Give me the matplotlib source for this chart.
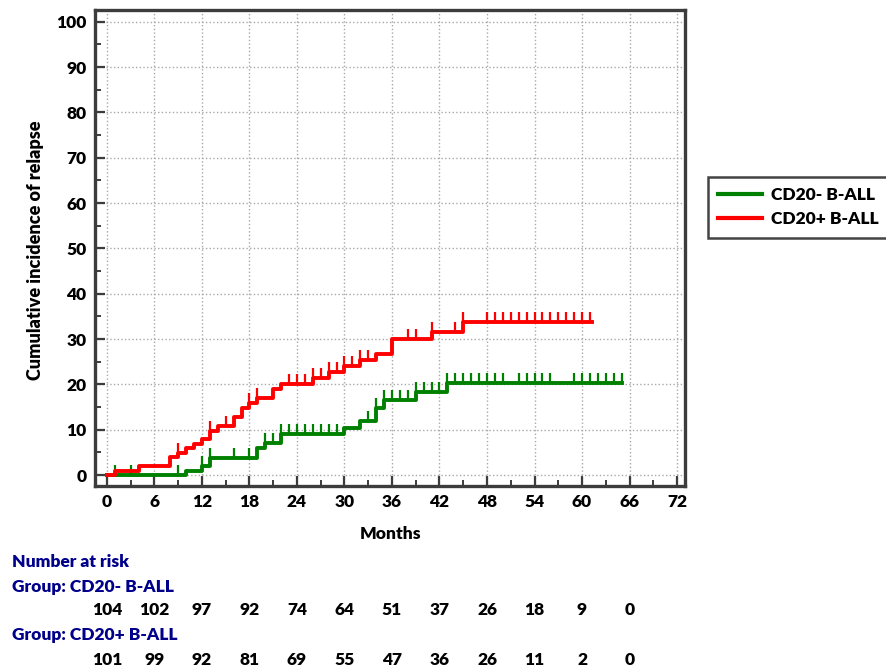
import numpy as np
import matplotlib.pyplot as plt
from matplotlib import transforms
from matplotlib.ticker import MultipleLocator

plt.rcParams['font.family'] = ['Lato', 'DejaVu Sans']
plt.rcParams['font.weight'] = 'heavy'

# CD20- B-ALL: event times (months) and cumulative incidence (%) after each step
neg_t = [0, 10, 12, 13, 19, 20, 22, 30, 32, 34, 35, 39, 43]
neg_y = [0, 1.0, 2.0, 3.8, 5.9, 7.1, 9.1, 10.3, 12.0, 14.8, 16.5, 18.4, 20.3]
neg_end = 65.1
neg_cens = [1, 3, 9, 12, 13, 16, 18, 20, 21, 22, 23, 24, 25, 26, 27, 28, 29,
            33, 34, 35, 36, 37, 38, 39, 40, 41, 42, 43, 44, 45, 46, 47, 48, 49,
            50, 52, 53, 54, 55, 56, 59, 60, 61, 62, 63, 64, 65]

# CD20+ B-ALL
pos_t = [0, 1, 4, 8, 9, 10, 11, 12, 13, 14, 16, 17, 18, 19, 21, 22, 26, 28,
         30, 32, 34, 36, 41, 45]
pos_y = [0, 1.0, 2.1, 3.9, 4.9, 5.9, 6.9, 8.0, 9.7, 10.8, 12.8, 14.8, 15.9,
         17.0, 19.0, 20.1, 21.4, 22.7, 24.1, 25.3, 26.8, 30.0, 31.6, 33.7]
pos_end = 61.2
pos_cens = [9, 13, 15, 18, 19, 23, 24, 25, 26, 27, 28, 29, 30, 31, 32, 33, 38,
            39, 41, 44, 45, 48, 49, 50, 51, 52, 53, 54, 55, 56, 57, 58, 59, 60, 61]

# number at risk table
risk_months = [0, 6, 12, 18, 24, 30, 36, 42, 48, 54, 60, 66]
neg_risk = [104, 102, 97, 92, 74, 64, 51, 37, 26, 18, 9, 0]
pos_risk = [101, 99, 92, 81, 69, 55, 47, 36, 26, 11, 2, 0]

GREEN = '#008000'
RED = '#ff0000'
DARK = '#3c3c3c'
NAVY = '#00008b'
FS = 12.5

W, H = 887, 671
fig = plt.figure(figsize=(W / 100, H / 100), dpi=100)
ax = fig.add_axes([95 / W, 1 - 486 / H, (685 - 95) / W, (486 - 10) / H])


def censor_levels(t, y, cens):
    idx = np.searchsorted(t, cens, side='right') - 1
    return np.array(y)[idx]


handles = []
for t, y, end, cens, col, lab in [
        (neg_t, neg_y, neg_end, neg_cens, GREEN, 'CD20- B-ALL'),
        (pos_t, pos_y, pos_end, pos_cens, RED, 'CD20+ B-ALL')]:
    h, = ax.step(t + [end], y + [y[-1]], where='post', color=col, lw=2.8,
                 label=lab, zorder=3)
    lev = censor_levels(t, y, cens)
    ax.vlines(cens, lev, lev + 2.2, color=col, lw=1.6, zorder=3)
    handles.append(h)

ax.set_xlim(-1.5, 73.0)
ax.set_ylim(-2.4, 102.6)
ax.xaxis.set_major_locator(MultipleLocator(6))
ax.xaxis.set_minor_locator(MultipleLocator(3))
ax.yaxis.set_major_locator(MultipleLocator(10))
ax.yaxis.set_minor_locator(MultipleLocator(5))
ax.grid(True, which='major', linestyle=':', color='#a8a8a8', lw=1.0, zorder=0)
ax.tick_params(which='major', direction='in', length=7.5, width=1.6,
               color=DARK, labelsize=FS, pad=6)
ax.tick_params(which='minor', direction='in', length=4, width=1.4, color=DARK)
for s in ax.spines.values():
    s.set_linewidth(2.4)
    s.set_color(DARK)

fig.text(36 / W, 1 - 250 / H, 'Cumulative incidence of relapse', rotation=90,
         ha='center', va='center', fontsize=13)
fig.text(391 / W, 1 - 534 / H, 'Months', ha='center', va='center', fontsize=FS)

leg = ax.legend(handles=handles, loc='upper left',
                bbox_to_anchor=(708 / W, 1 - 177 / H),
                bbox_transform=fig.transFigure, borderaxespad=0,
                fancybox=False, framealpha=1, edgecolor='#444444',
                handlelength=2.5, handletextpad=0.55, fontsize=12.5,
                labelspacing=0.45, borderpad=0.6)
leg.get_frame().set_linewidth(1.8)
for ln in leg.get_lines():
    ln.set_linewidth(3)

# number at risk
fig.text(12 / W, 1 - 562 / H, 'Number at risk', color=NAVY, fontsize=FS,
         va='center')
fig.text(12 / W, 1 - 587 / H, 'Group: CD20- B-ALL', color=NAVY, fontsize=FS,
         va='center')
fig.text(12 / W, 1 - 635 / H, 'Group: CD20+ B-ALL', color=NAVY, fontsize=FS,
         va='center')
tr = transforms.blended_transform_factory(ax.transData, fig.transFigure)
for m, a, b in zip(risk_months, neg_risk, pos_risk):
    ax.text(m, 1 - 610 / H, str(a), transform=tr, ha='center', va='center',
            fontsize=FS, clip_on=False)
    ax.text(m, 1 - 660 / H, str(b), transform=tr, ha='center', va='center',
            fontsize=FS, clip_on=False)

fig.savefig('out.png', dpi=100)
